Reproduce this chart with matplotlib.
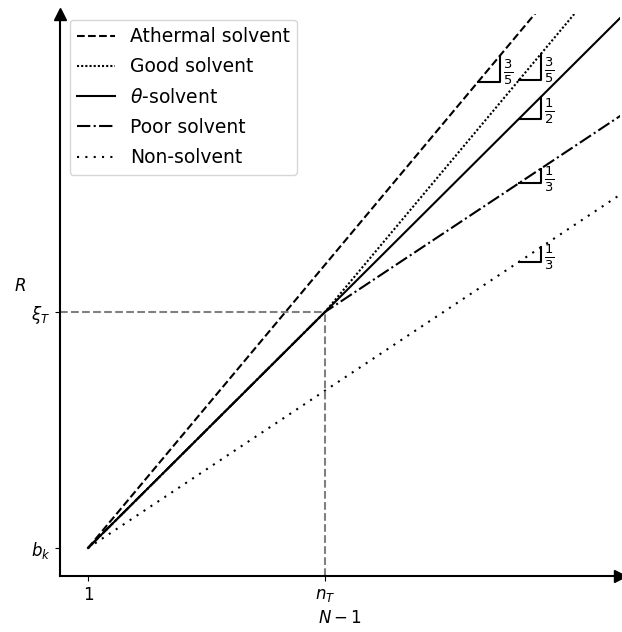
import numpy as np
import matplotlib.pyplot as plt
from matplotlib.ticker import NullLocator

# 模式図: 溶媒の質ごとの R ~ (N-1)^nu
b_k = 1.0
n_T = 100.0
xi_T = b_k * n_T ** 0.5

labels = ['Athermal solvent', 'Good solvent', r'$\theta$-solvent', 'Poor solvent', 'Non-solvent']
nu_before = [3 / 5, 1 / 2, 1 / 2, 1 / 2, 1 / 3]   # n_T より前の指数
nu_after = [3 / 5, 3 / 5, 1 / 2, 1 / 3, 1 / 3]    # n_T より後の指数
slope_labels = [r'$\frac{3}{5}$', r'$\frac{3}{5}$', r'$\frac{1}{2}$', r'$\frac{1}{3}$', r'$\frac{1}{3}$']
tri_x0 = [1950, 4335, 4335, 4335, 4335]            # 勾配三角形の左端
styles = ['--', (0, (1, 1)), '-', '-.', (0, (1, 3))]

x_min, x_max = 0.58, 30900
y_min, y_max = 0.761, 183


def curve(x, nb, na):
    x = np.asarray(x, dtype=float)
    return np.where(x <= n_T, b_k * x ** nb, b_k * n_T ** nb * (x / n_T) ** na)


fig = plt.figure(figsize=(6.22, 6.32), dpi=100)
ax = fig.add_axes([60 / 622, 56 / 632, 560 / 622, 562 / 632])
ax.set_xscale('log')
ax.set_yscale('log')

x_pts = [1, n_T, x_max * 2]
for lab, nb, na, ls in zip(labels, nu_before, nu_after, styles):
    ax.plot(x_pts, curve(x_pts, nb, na), color='k', linestyle=ls, lw=1.5, label=lab)

# 勾配三角形
k = 1.53
for nb, na, sl, x0 in zip(nu_before, nu_after, slope_labels, tri_x0):
    x1 = x0 * k
    y0 = float(curve(x0, nb, na))
    y1 = float(curve(x1, nb, na))
    ax.plot([x0, x1, x1], [y0, y0, y1], color='k', lw=1.5)
    ax.text(x1 * 1.07, np.sqrt(y0 * y1) * 0.97, sl, fontsize=13.5, va='center', ha='left')

# クロスオーバー位置の補助線
ax.plot([n_T, n_T], [y_min, xi_T], color='gray', linestyle='--', lw=1.5)
ax.plot([x_min, n_T], [xi_T, xi_T], color='gray', linestyle='--', lw=1.5)

ax.set_xlim(x_min, x_max)
ax.set_ylim(y_min, y_max)
ax.xaxis.set_minor_locator(NullLocator())
ax.yaxis.set_minor_locator(NullLocator())
ax.set_xticks([1, n_T])
ax.set_xticklabels(['1', '$n_T$'], fontsize=12)
ax.set_yticks([b_k, xi_T])
ax.set_yticklabels(['$b_k$', r'$\xi_T$'], fontsize=12)
ax.set_xlabel('$N-1$', fontsize=12)
ax.set_ylabel('$R$', fontsize=12, rotation=0)
ax.yaxis.set_label_coords(-0.071, 0.50)

ax.spines['top'].set_visible(False)
ax.spines['right'].set_visible(False)
ax.spines['left'].set_linewidth(1.5)
ax.spines['bottom'].set_linewidth(1.5)
ax.plot(1, 0, '>k', ms=9, transform=ax.transAxes, clip_on=False)
ax.plot(0, 1, '^k', ms=9, transform=ax.transAxes, clip_on=False)

ax.legend(loc='upper left', fontsize=13.5, borderaxespad=0.3, labelspacing=0.6,
          bbox_to_anchor=(4 / 560, 1.0))

plt.savefig('out.png', dpi=100)
plt.close()
